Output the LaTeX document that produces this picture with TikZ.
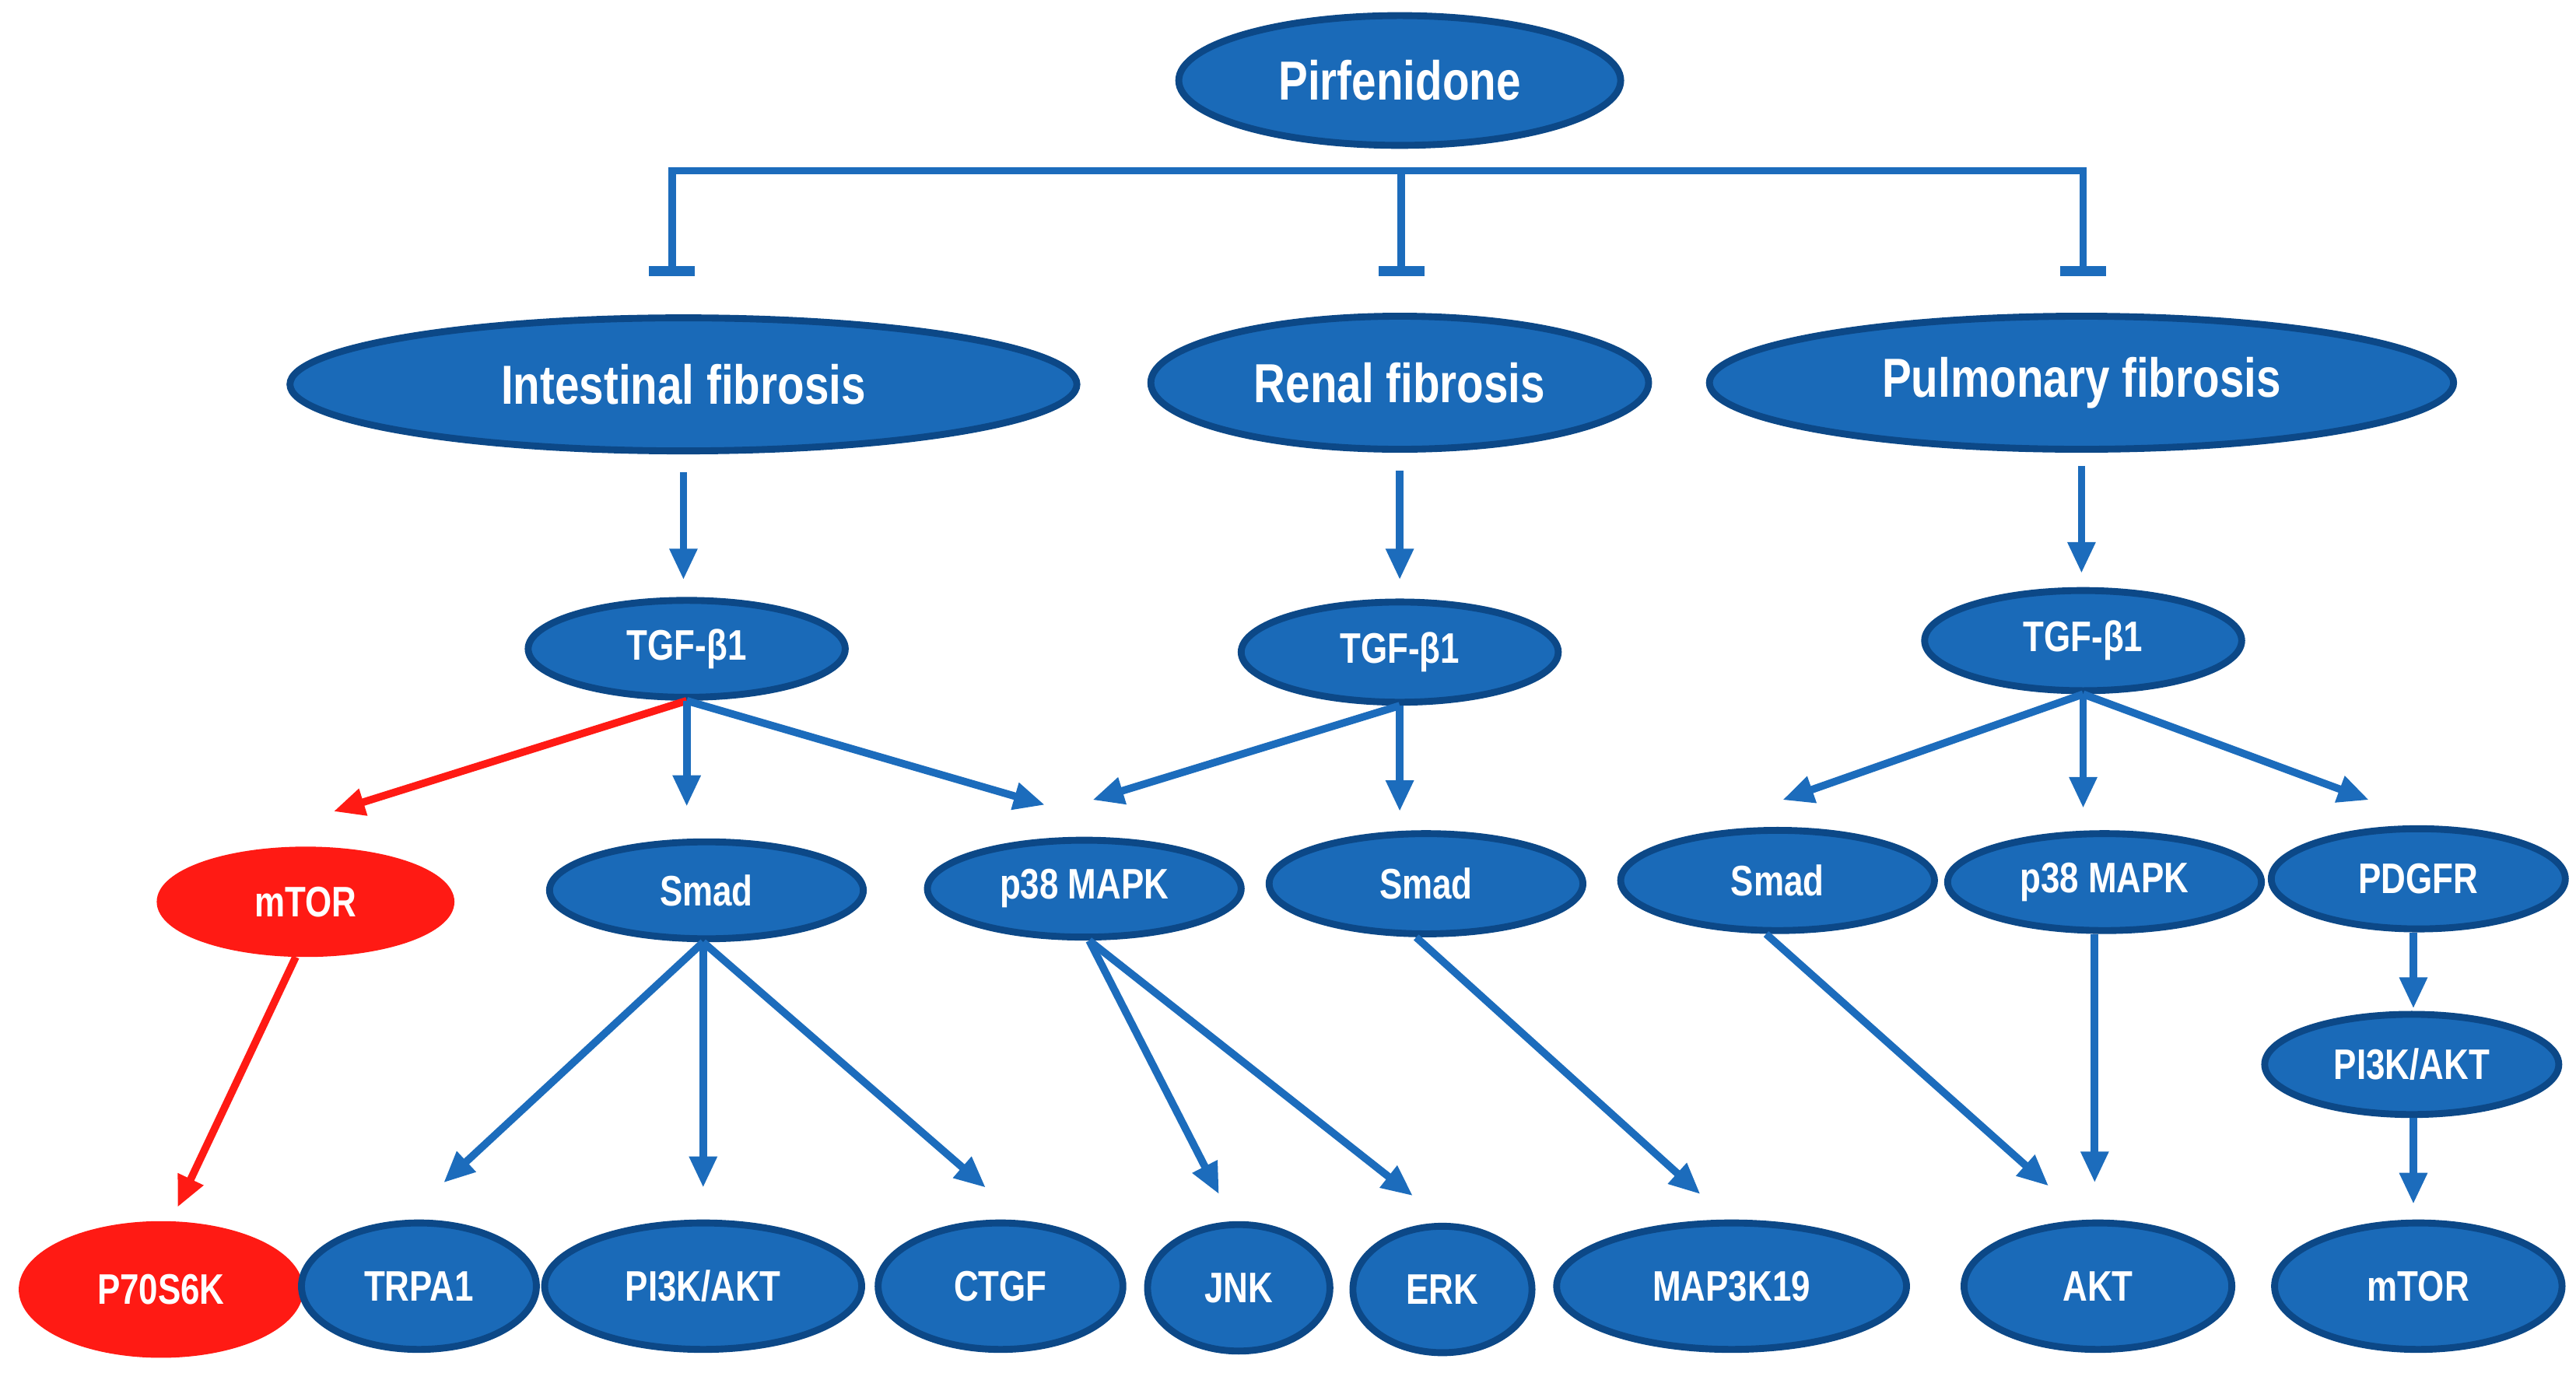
\documentclass[tikz,border=0pt]{standalone}
\usepackage{fontspec}
\setmainfont{Liberation Sans}[FakeStretch=0.8]
\usetikzlibrary{shapes.geometric,arrows.meta,calc}
\definecolor{fillb}{RGB}{26,106,184}
\definecolor{bdr}{RGB}{12,72,135}
\definecolor{arrb}{RGB}{28,108,188}
\definecolor{redc}{RGB}{255,26,20}
\begin{document}
\begin{tikzpicture}[x=1pt,y=-1pt,
  nd/.style={ellipse, draw=bdr, line width=4.2pt, fill=fillb, text=white,
    font=\bfseries\fontsize{26}{29}\selectfont, inner sep=0pt},
  big/.style={font=\bfseries\fontsize{33.5}{37}\selectfont},
  rednd/.style={nd, fill=redc, draw=redc},
  arr/.style={draw=arrb, line width=4.6pt, -{Triangle[length=19pt,width=16pt]}},
  redarr/.style={arr, draw=redc},
  inh/.style={draw=arrb, line width=4.6pt, -{Rectangle[length=6pt,width=28pt]}},
]
\useasboundingbox (0,0) rectangle (1568,840);
% nodes
\newcommand{\enode}[6]{\node[#1, minimum width=#4pt, minimum height=#5pt] (#2) at #3 {#6};}
\enode{nd,big}{pirf}{(852,49)}{269}{79}{Pirfenidone}
\enode{nd,big}{intf}{(416,234)}{479}{81}{Intestinal fibrosis}
\enode{nd,big}{renf}{(852,233)}{303}{81}{Renal fibrosis}
\enode{nd,big}{pulf}{(1267,233)}{453}{81}{Pulmonary fibrosis}
\enode{nd}{tgf1}{(418,395)}{193}{59}{TGF-β1}
\enode{nd}{tgf2}{(852,397)}{193}{61}{TGF-β1}
\enode{nd}{tgf3}{(1268,390)}{193}{61}{TGF-β1}
\enode{rednd}{mtor1}{(186,549)}{177}{63}{mTOR}
\enode{nd}{smad1}{(430,542)}{191}{59}{Smad}
\enode{nd}{p38a}{(660,541)}{191}{59}{p38 MAPK}
\enode{nd}{smad2}{(868,538)}{191}{61}{Smad}
\enode{nd}{smad3}{(1082,536)}{191}{61}{Smad}
\enode{nd}{p38b}{(1281,537)}{191}{59}{p38 MAPK}
\enode{nd}{pdgfr}{(1472,535)}{179}{61}{PDGFR}
\enode{nd}{pi3k2}{(1468,648)}{179}{61}{PI3K/AKT}
\enode{rednd}{p70}{(98,785)}{169}{79}{P70S6K}
\enode{nd}{trpa1}{(255,783)}{143}{77}{TRPA1}
\enode{nd}{pi3k1}{(428,783)}{193}{77}{PI3K/AKT}
\enode{nd}{ctgf}{(609,783)}{149}{77}{CTGF}
\enode{nd}{jnk}{(754,784)}{111}{77}{JNK}
\enode{nd}{erk}{(878,785)}{109}{77}{ERK}
\enode{nd}{map3k}{(1054,783)}{213}{77}{MAP3K19}
\enode{nd}{akt}{(1277,783)}{163}{77}{AKT}
\enode{nd}{mtor2}{(1472,783)}{175}{77}{mTOR}
% inhibition bar
\coordinate (hbL) at (409,104);
\coordinate (hbM) at (853,104);
\coordinate (hbR) at (1268,104);
\draw[draw=arrb, line width=4.6pt] ([xshift=-2.3pt]hbL) -- ([xshift=2.3pt]hbR);
\draw[inh] (hbL) -- ($(hbL)+(0,64)$);
\draw[inh] (hbM) -- ($(hbM)+(0,64)$);
\draw[inh] (hbR) -- ($(hbR)+(0,64)$);
% arrow tips
\coordinate (a1) at (416,353);
\coordinate (a2) at (852,353);
\coordinate (a3) at (1267,349);
\coordinate (b1) at (203,494);
\coordinate (b2) at (418,491);
\coordinate (b3) at (636,490);
\coordinate (c1) at (665,487);
\coordinate (c2) at (852,494);
\coordinate (d1) at (1085,487);
\coordinate (d2) at (1268,492);
\coordinate (d3) at (1442,487);
\coordinate (e1) at (108,735);
\coordinate (f1) at (270,720);
\coordinate (f2) at (428,723);
\coordinate (f3) at (600,723);
\coordinate (g1) at (742,727);
\coordinate (g2) at (860,728);
\coordinate (h1) at (1035,727);
\coordinate (i1) at (1247,722);
\coordinate (j1) at (1275,720);
\coordinate (k1) at (1469,614);
\coordinate (k2) at (1469,733);
% arrows
\draw[arr] ([yshift=-11pt]intf.south) -- (a1);
\draw[arr] ([yshift=-11pt]renf.south) -- (a2);
\draw[arr] ([yshift=-8pt]pulf.south) -- (a3);
\draw[redarr] (tgf1.south) -- (b1);
\draw[arr] (tgf1.south) -- (b2);
\draw[arr] (tgf1.south) -- (b3);
\draw[arr] (tgf2.south) -- (c1);
\draw[arr] (tgf2.south) -- (c2);
\draw[arr] (tgf3.south) -- (d1);
\draw[arr] (tgf3.south) -- (d2);
\draw[arr] (tgf3.south) -- (d3);
\draw[redarr] ([xshift=-6pt]mtor1.south) -- (e1);
\draw[arr] ([xshift=-2pt]smad1.south) -- (f1);
\draw[arr] ([xshift=-2pt]smad1.south) -- (f2);
\draw[arr] ([xshift=-2pt]smad1.south) -- (f3);
\draw[arr] ([xshift=3pt]p38a.south) -- (g1);
\draw[arr] ([xshift=3pt]p38a.south) -- (g2);
\draw[arr] ([xshift=-6pt]smad2.south) -- (h1);
\draw[arr] ([xshift=-7pt]smad3.south) -- (i1);
\draw[arr] ([xshift=-6pt]p38b.south) -- (j1);
\draw[arr] ([xshift=-3pt]pdgfr.south) -- (k1);
\draw[arr] ([xshift=1pt]pi3k2.south) -- (k2);
\end{tikzpicture}
\end{document}
